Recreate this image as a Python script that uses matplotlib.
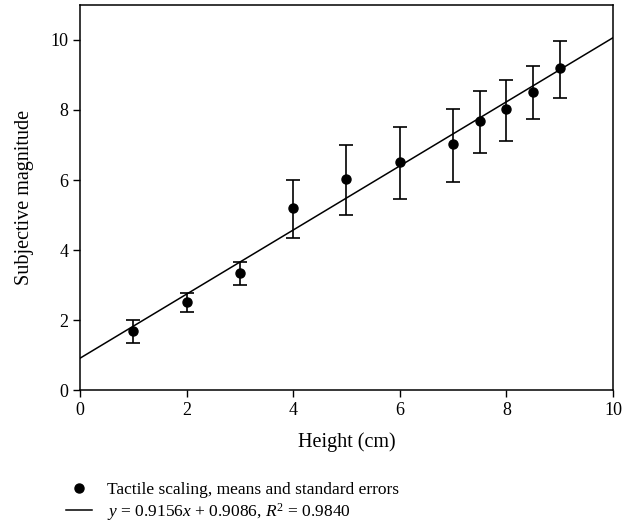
import matplotlib.pyplot as plt
from matplotlib.lines import Line2D
import numpy as np

# Data
height = [1, 2, 3, 4, 5, 6, 7, 7.5, 8, 8.5, 9]
magnitude = [1.69, 2.52, 3.35, 5.19, 6.02, 6.52, 7.02, 7.69, 8.02, 8.52, 9.19]
err_low = [0.36, 0.30, 0.35, 0.86, 1.02, 1.06, 1.07, 0.91, 0.90, 0.79, 0.86]
err_high = [0.30, 0.25, 0.30, 0.80, 0.97, 1.00, 1.01, 0.85, 0.84, 0.73, 0.79]
slope = 0.9156
intercept = 0.9086
r2 = 0.9840

plt.rcParams['font.family'] = ['Liberation Serif', 'DejaVu Serif']
plt.rcParams['mathtext.fontset'] = 'custom'
plt.rcParams['mathtext.it'] = 'Liberation Serif:italic'
plt.rcParams['mathtext.rm'] = 'Liberation Serif'

fig = plt.figure(figsize=(6.37, 5.31), dpi=100)
ax = fig.add_axes([0.1256, 0.2655, 0.8367, 0.7251])

ax.errorbar(height, magnitude, yerr=[err_low, err_high], fmt='o', color='black',
            markersize=6.5, elinewidth=1.2, capsize=5, capthick=1.2)
fit_x = np.array([0, 10])
line, = ax.plot(fit_x, slope * fit_x + intercept, color='black', lw=1.1)

ax.set_xlim(0, 10)
ax.set_ylim(0, 11)
ax.set_xticks(range(0, 11, 2))
ax.set_yticks(range(0, 11, 2))
ax.tick_params(direction='out', labelsize=13, length=5, width=1)
for s in ax.spines.values():
    s.set_linewidth(1.1)
ax.set_xlabel('Height (cm)', fontsize=14.5, labelpad=10)
ax.set_ylabel('Subjective magnitude', fontsize=14.5, labelpad=12)

dot = Line2D([], [], ls='none', marker='o', color='black', markersize=6.5)
fig.legend([dot, line],
           ['Tactile scaling, means and standard errors',
            f'$y$ = {slope:.4f}$x$ + {intercept:.4f}, $R^2$ = {r2:.4f}'],
           loc='upper left', bbox_to_anchor=(0.092, 0.105), frameon=False,
           fontsize=12.5, handlelength=1.5, handletextpad=0.9, labelspacing=0.15,
           borderaxespad=0)

fig.savefig('out.png', dpi=100)
